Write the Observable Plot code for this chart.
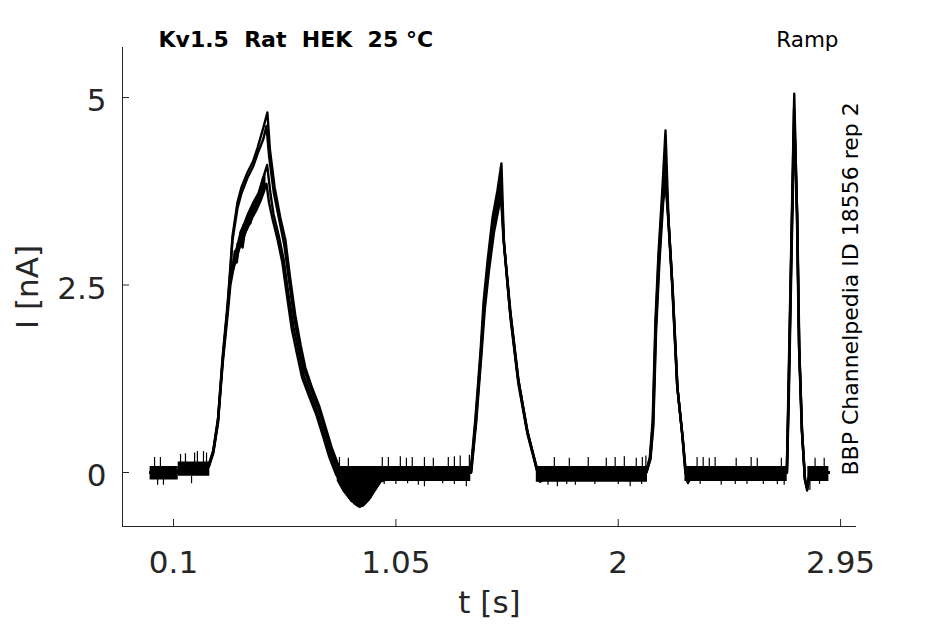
<!DOCTYPE html>
<html><head><meta charset="utf-8">
<script src="https://cdn.jsdelivr.net/npm/d3@7"></script>
<script src="https://cdn.jsdelivr.net/npm/@observablehq/plot@0.6"></script>
<style>
html,body{margin:0;padding:0;background:#fff;}
svg text{white-space:pre;}
</style></head><body><div id="chart"></div>
<script>
// ---- axes ----
const xDomain = [-0.118, 3.018];
const yDomain = [-0.72, 5.667];
const xTicks = [0.1, 1.05, 2, 2.95];
const yTicks = [0, 2.5, 5];
const xTickLabels = ["0.1", "1.05", "2", "2.95"];
const yTickLabels = ["0", "2.5", "5"];

// ---- texts ----
const titleText = "Kv1.5  Rat  HEK  25 °C";
const protocolText = "Ramp";
const sourceText = "BBP Channelpedia ID 18556 rep 2";
const xLabel = "t [s]";
const yLabel = "I [nA]";

// ---- sweeps: [t (s), I (nA)] ----
const hump1A = [[0,0],[0.12,0],[0.13,0.06],[0.25,0.1],[0.27,0.3],[0.29,0.72],[0.31,1.55],[0.331,2.25],[0.343,2.75],[0.352,3.15],[0.373,3.6],[0.39,3.8],[0.416,4.0],[0.44,4.15],[0.459,4.33],[0.484,4.6],[0.501,4.8],[0.512,4.3],[0.532,3.8],[0.556,3.4],[0.578,3.1],[0.598,2.6],[0.62,2.1],[0.643,1.7],[0.663,1.4],[0.693,1.12],[0.723,0.88],[0.752,0.58],[0.777,0.32],[0.806,0.08],[0.835,-0.04],[0.87,-0.1],[0.92,-0.06],[0.97,0],[1.369,0]];
const hump1B = [[0,0],[0.12,0.02],[0.13,0.05],[0.25,0.08],[0.27,0.28],[0.29,0.7],[0.31,1.5],[0.331,2.2],[0.343,2.7],[0.352,3.1],[0.373,3.52],[0.39,3.72],[0.416,3.93],[0.44,4.08],[0.459,4.25],[0.484,4.45],[0.497,4.62],[0.509,4.2],[0.529,3.72],[0.553,3.35],[0.574,3.02],[0.594,2.55],[0.616,2.05],[0.639,1.66],[0.659,1.36],[0.689,1.1],[0.719,0.85],[0.749,0.55],[0.774,0.28],[0.803,0.04],[0.83,-0.08],[0.87,-0.15],[0.92,-0.1],[0.97,-0.02],[1.0,0],[1.37,0]];
const hump1C = [[0,0],[0.12,0],[0.13,0.04],[0.25,0.08],[0.27,0.28],[0.29,0.68],[0.31,1.5],[0.331,2.18],[0.343,2.58],[0.356,2.8],[0.362,2.95],[0.367,2.86],[0.374,3.05],[0.38,2.98],[0.386,3.2],[0.393,3.12],[0.40,3.3],[0.408,3.24],[0.416,3.42],[0.424,3.36],[0.432,3.52],[0.442,3.6],[0.452,3.58],[0.46,3.7],[0.47,3.75],[0.48,3.9],[0.50,4.1],[0.515,3.7],[0.527,3.45],[0.55,3.15],[0.57,2.85],[0.59,2.4],[0.612,1.95],[0.635,1.6],[0.655,1.3],[0.685,1.05],[0.715,0.8],[0.745,0.5],[0.77,0.25],[0.80,0.0],[0.83,-0.2],[0.856,-0.33],[0.898,-0.45],[0.941,-0.33],[0.97,-0.15],[0.997,-0.05],[1.02,0],[1.371,0]];
const hump1D = [[0,0],[0.12,0],[0.13,0.05],[0.25,0.07],[0.27,0.26],[0.29,0.66],[0.31,1.45],[0.331,2.1],[0.343,2.5],[0.356,2.72],[0.363,2.85],[0.37,2.8],[0.378,2.98],[0.386,3.05],[0.395,3.0],[0.404,3.2],[0.416,3.3],[0.428,3.32],[0.442,3.48],[0.455,3.52],[0.468,3.65],[0.48,3.72],[0.497,3.85],[0.508,3.6],[0.523,3.38],[0.545,3.1],[0.565,2.8],[0.585,2.35],[0.606,1.9],[0.629,1.56],[0.649,1.27],[0.679,1.02],[0.709,0.78],[0.739,0.48],[0.764,0.22],[0.795,-0.03],[0.83,-0.22],[0.86,-0.38],[0.89,-0.42],[0.92,-0.38],[0.95,-0.25],[0.98,-0.1],[1.01,0],[1.372,0]];

const peak2A = [[1.39,0.73],[1.412,1.63],[1.425,2.29],[1.442,2.83],[1.463,3.4],[1.484,3.76],[1.501,4.12],[1.512,3.05],[1.541,2.1],[1.575,1.2],[1.614,0.52],[1.655,0.03],[1.667,-0.1],[1.69,0],[2.118,0]];
const peak2B = [[1.391,0.7],[1.413,1.6],[1.427,2.25],[1.444,2.8],[1.465,3.33],[1.485,3.68],[1.498,3.95],[1.511,3.1],[1.538,2.15],[1.572,1.25],[1.611,0.56],[1.652,0.05],[1.665,-0.12],[1.69,0],[2.119,0]];
const peak2C = [[1.392,0.68],[1.414,1.58],[1.428,2.2],[1.446,2.75],[1.467,3.25],[1.487,3.6],[1.497,3.8],[1.509,3.15],[1.536,2.2],[1.57,1.3],[1.608,0.6],[1.649,0.07],[1.663,-0.08],[1.69,0],[2.12,0]];
const peak2D = [[1.393,0.66],[1.415,1.55],[1.43,2.18],[1.448,2.7],[1.469,3.2],[1.489,3.52],[1.50,3.7],[1.513,3.0],[1.54,2.05],[1.574,1.17],[1.613,0.5],[1.654,0.02],[1.668,-0.12],[1.70,0],[2.121,0]];

const peak3A = [[2.135,0.2],[2.147,0.69],[2.159,2.03],[2.172,2.92],[2.189,3.8],[2.202,4.56],[2.215,3.36],[2.232,2.47],[2.253,1.13],[2.275,0.47],[2.288,0.0],[2.298,-0.14],[2.32,0],[2.72,0]];
const peak3B = [[2.136,0.2],[2.148,0.66],[2.16,1.98],[2.173,2.88],[2.19,3.72],[2.2,4.2],[2.214,3.4],[2.231,2.5],[2.252,1.16],[2.274,0.5],[2.287,0.02],[2.296,-0.12],[2.32,0],[2.72,0]];
const peak3C = [[2.137,0.18],[2.149,0.64],[2.161,1.95],[2.175,2.85],[2.19,3.65],[2.199,4.0],[2.212,3.45],[2.23,2.52],[2.251,1.18],[2.273,0.52],[2.286,0.03],[2.295,-0.1],[2.32,0],[2.721,0]];
const peak3D = [[2.138,0.18],[2.15,0.62],[2.162,1.9],[2.176,2.8],[2.192,3.6],[2.203,3.9],[2.216,3.3],[2.233,2.42],[2.254,1.1],[2.276,0.45],[2.289,0.0],[2.299,-0.12],[2.32,0],[2.721,0]];

const peak4A = [[2.727,1.1],[2.739,3.0],[2.752,5.05],[2.764,3.45],[2.773,1.67],[2.785,0.56],[2.798,-0.1],[2.807,-0.24],[2.819,0],[2.9,0]];
const peak4B = [[2.728,1.05],[2.74,3.0],[2.751,4.85],[2.763,3.5],[2.772,1.7],[2.784,0.58],[2.797,-0.08],[2.806,-0.2],[2.818,0],[2.9,0]];
const peak4C = [[2.729,1.0],[2.741,2.95],[2.753,4.75],[2.765,3.4],[2.774,1.62],[2.786,0.52],[2.799,-0.12],[2.808,-0.22],[2.82,0],[2.9,0]];
const peak4D = [[2.728,1.08],[2.74,3.05],[2.752,4.7],[2.764,3.48],[2.773,1.68],[2.785,0.55],[2.798,-0.1],[2.807,-0.18],[2.819,0],[2.9,0]];

// baseline noise band [t0, t1, low, high]
const noiseBands = [[0.0,0.12,-0.1,0.08],[0.12,0.255,-0.05,0.14],[0.80,1.37,-0.12,0.08],[1.65,2.125,-0.13,0.08],[2.285,2.722,-0.12,0.08],[2.81,2.90,-0.12,0.08]];
// noise envelope of the overlapping sweeps [t, low, high]
const riseNoise = [[0.343,2.45,2.62],[0.356,2.64,2.86],[0.37,2.78,3.02],[0.386,2.96,3.22],[0.40,3.08,3.32],[0.416,3.2,3.45],[0.442,3.38,3.62],[0.46,3.48,3.72],[0.48,3.62,3.92],[0.495,3.75,4.0]];
const undershootNoise = [[0.80,-0.12,0.08],[0.825,-0.26,0.06],[0.85,-0.36,0.05],[0.875,-0.44,0.04],[0.895,-0.48,0.04],[0.915,-0.46,0.05],[0.94,-0.38,0.06],[0.965,-0.26,0.08],[0.99,-0.14,0.08],[1.01,-0.12,0.08]];
// noise spikes [t, peak value]
const upSpikes = [[0.019,0.2],[0.044,0.2],[0.13,0.24],[0.151,0.25],[0.19,0.26],[0.202,0.28],[0.228,0.28],[0.241,0.26],
  [0.809,0.2],[0.847,0.19],[0.992,0.2],[1.018,0.2],[1.069,0.21],[1.095,0.19],[1.12,0.2],[1.172,0.2],[1.21,0.19],[1.274,0.2],[1.3,0.21],[1.325,0.22],[1.364,0.23],
  [1.727,0.2],[1.791,0.19],[1.872,0.2],[1.949,0.19],[1.987,0.2],[2.026,0.21],[2.077,0.19],[2.103,0.2],[2.118,0.22],
  [2.337,0.2],[2.363,0.2],[2.389,0.19],[2.414,0.2],[2.504,0.19],[2.568,0.2],[2.594,0.19],[2.697,0.19],
  [2.841,0.19],[2.88,0.19]];
const downSpikes = [[0.032,-0.17],[0.057,-0.17],[0.177,-0.15],[0.82,-0.19],[1.0,-0.16],[1.05,-0.16],[1.1,-0.15],[1.146,-0.17],[1.172,-0.19],[1.25,-0.15],[1.3,-0.16],[1.351,-0.19],
  [1.70,-0.17],[1.74,-0.19],[1.78,-0.16],[1.817,-0.17],[1.9,-0.16],[2.0,-0.16],[2.051,-0.19],[2.1,-0.16],
  [2.35,-0.16],[2.44,-0.17],[2.5,-0.16],[2.55,-0.16],[2.62,-0.16],[2.68,-0.16],[2.709,-0.17],[2.819,-0.24],[2.86,-0.16]];

const sweeps = [
  [...hump1A, ...peak2A, ...peak3A, ...peak4A],
  [...hump1B, ...peak2B, ...peak3B, ...peak4B],
  [...hump1C, ...peak2C, ...peak3C, ...peak4C],
  [...hump1D, ...peak2D, ...peak3D, ...peak4D]
];
const traceRows = sweeps.flatMap((s, k) => s.map(([t, i]) => ({t, i, sweep: k})));
const bandRows = noiseBands.map(([t0, t1, lo, hi]) => ({t0, t1, lo, hi}));
const envRows = [riseNoise, undershootNoise].flatMap((e, k) => e.map(([t, lo, hi]) => ({t, lo, hi, part: k})));
const spikeRows = [
  ...upSpikes.map(([t, v]) => ({t, lo: 0.05, hi: v})),
  ...downSpikes.map(([t, v]) => ({t, lo: v, hi: -0.05}))
];

const W = 945, H = 624, mL = 122, mR = 89, mT = 47, mB = 98;
const frameW = W - mL - mR, frameH = H - mT - mB;
const ink = "#262626";

const chart = Plot.plot({
  width: W, height: H,
  marginLeft: mL, marginRight: mR, marginTop: mT, marginBottom: mB,
  style: {fontFamily: "DejaVu Sans", fontSize: "31px", color: ink, background: "#fff", overflow: "visible"},
  x: {domain: xDomain},
  y: {domain: yDomain},
  marks: [
    Plot.rect(bandRows, {x1: "t0", x2: "t1", y1: "lo", y2: "hi", fill: "#000"}),
    Plot.areaY(envRows, {x: "t", y1: "lo", y2: "hi", z: "part", fill: "#000"}),
    Plot.ruleX(spikeRows, {x: "t", y1: "lo", y2: "hi", stroke: "#000", strokeWidth: 1.2}),
    Plot.line(traceRows, {x: "t", y: "i", z: "sweep", stroke: "#000", strokeWidth: 2.4}),
    Plot.ruleX([xDomain[0]], {stroke: ink, strokeWidth: 1}),
    Plot.ruleY([yDomain[0]], {stroke: ink, strokeWidth: 1}),
    Plot.tickY(yTicks, {y: d => d, stroke: ink, insetRight: frameW - 7}),
    Plot.tickX(xTicks, {x: d => d, stroke: ink, insetTop: frameH - 7}),
    Plot.axisX({ticks: xTicks, tickSize: 0, tickPadding: 24, tickFormat: (d, i) => xTickLabels[i], label: null}),
    Plot.axisY({ticks: yTicks, tickSize: 0, tickPadding: 16, dy: 4, tickFormat: (d, i) => yTickLabels[i], label: null}),
    Plot.text([xLabel], {frameAnchor: "bottom", lineAnchor: "bottom", dy: 86, fontSize: 31, fill: ink}),
    Plot.text([yLabel], {frameAnchor: "left", rotate: -90, lineAnchor: "bottom", textAnchor: "middle", dx: -85, fontSize: 31, fill: ink}),
    Plot.text([titleText], {frameAnchor: "top-left", textAnchor: "start", lineAnchor: "bottom", dx: 36, dy: -1, fontSize: 22, fontWeight: "bold", fill: "#000"}),
    Plot.text([protocolText], {frameAnchor: "top-right", textAnchor: "end", lineAnchor: "bottom", dx: -18, dy: -1, fontSize: 21.5, fill: "#000"}),
    Plot.text([sourceText], {frameAnchor: "bottom-right", rotate: -90, textAnchor: "start", lineAnchor: "bottom", dx: 1, dy: -51, fontSize: 22, fill: "#000"})
  ]
});
document.getElementById("chart").appendChild(chart);
</script>
</body></html>
